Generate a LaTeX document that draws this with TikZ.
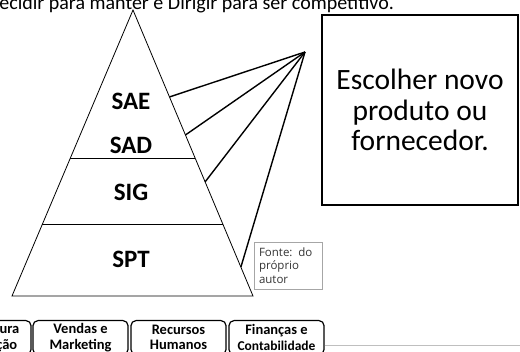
\documentclass[tikz,border=0pt]{standalone}
\usepackage{fontspec}
\setmainfont{Carlito}
\newfontfamily\srcfont{Open Sans}
\usetikzlibrary{calc}

\begin{document}
\begin{tikzpicture}[x=1pt,y=-1pt,
  level/.style={font=\fontsize{25}{25}\selectfont\bfseries},
  tab/.style={draw,line width=1.2pt,rounded corners=5pt,anchor=north,
    minimum width=95pt,minimum height=34pt,align=center,inner sep=0pt,
    font=\fontsize{14.5}{15.5}\selectfont\bfseries}]
\useasboundingbox (0,0) rectangle (520,352);
\clip (0,0) rectangle (520,352);

\node[anchor=base west,font=\fontsize{20}{20}\selectfont] (title) at (-16.5,10) {Decidir para manter e Dirigir para ser competitivo.};

% piramide
\coordinate (apex) at (133,10);
\coordinate (bl) at (12,296);
\coordinate (br) at (253,296);
\draw[line width=0.8pt] (apex) -- (bl) -- (br) -- cycle;
\draw[line width=0.8pt] ($(apex)!0.5175!(bl)$) -- ($(apex)!0.5175!(br)$);
\draw[line width=0.8pt] ($(apex)!0.748!(bl)$) -- ($(apex)!0.748!(br)$);

\node[level] (sae) at (131,101) {SAE};
\node[level] (sad) at (131,145) {SAD};
\node[level] (sig) at (131,192) {SIG};
\node[level] (spt) at (131,259) {SPT};

% ligacoes
\coordinate (hub) at (305,52);
\foreach \t in {0.304,0.437,0.601,0.899}
  \draw[line width=1.4pt] (hub) -- ($(apex)!\t!(br)$);

\node[draw,line width=1.2pt,minimum width=196pt,minimum height=190pt,align=center,
  font=\fontsize{29.5}{30.5}\selectfont] (goal) at (420,110) {Escolher novo\\produto ou\\fornecedor.};

\node[draw=gray!70,minimum width=68pt,minimum height=47pt,text width=58pt,align=left,
  inner sep=0pt,text=black!80,font=\srcfont\fontsize{11.5}{13.5}\selectfont] (src) at (288,265.5) {Fonte: do\\próprio\\autor};

% areas funcionais
\node[tab] (prod) at (-16.5,320) {Manufatura\\e Produção};
\node[tab] (vend) at (80.5,320) {Vendas e\\Marketing};
\node[tab] (rh) at (178.5,320) {Recursos\\Humanos};
\node[tab] (fin) at (276.5,320) {Finanças e\\{\fontsize{13.5}{15.5}\selectfont Contabilidade}};
\coordinate (rulend) at (520,346);
\draw[gray!50,line width=1pt] (fin.east |- rulend) -- (rulend);
\end{tikzpicture}
\end{document}
